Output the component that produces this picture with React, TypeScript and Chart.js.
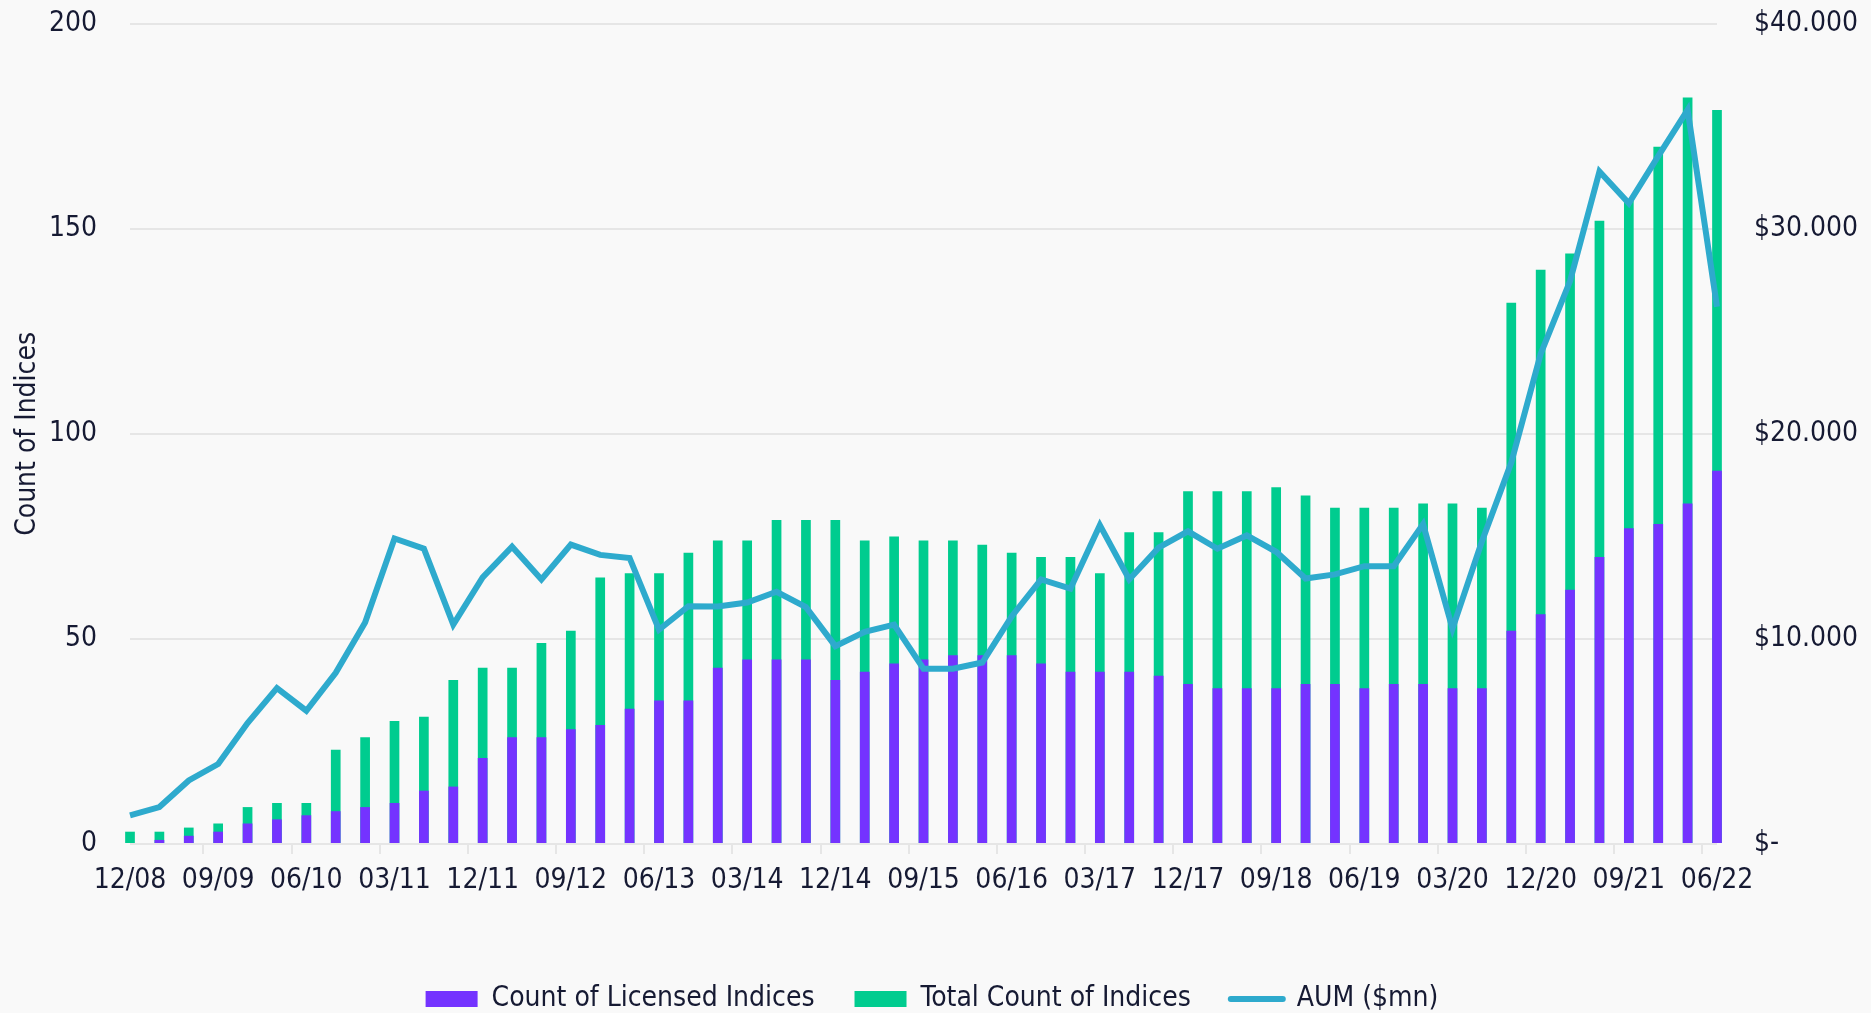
import { useEffect, useRef } from 'react';
import { Chart, registerables } from 'chart.js';

Chart.register(...registerables);

const quarters = [
  '12/08', '03/09', '06/09', '09/09', '12/09', '03/10', '06/10', '09/10', '12/10',
  '03/11', '06/11', '09/11', '12/11', '03/12', '06/12', '09/12', '12/12',
  '03/13', '06/13', '09/13', '12/13', '03/14', '06/14', '09/14', '12/14',
  '03/15', '06/15', '09/15', '12/15', '03/16', '06/16', '09/16', '12/16',
  '03/17', '06/17', '09/17', '12/17', '03/18', '06/18', '09/18', '12/18',
  '03/19', '06/19', '09/19', '12/19', '03/20', '06/20', '09/20', '12/20',
  '03/21', '06/21', '09/21', '12/21', '03/22', '06/22',
];

const licensedCount = [
  0, 1, 2, 3, 5, 6, 7, 8, 9,
  10, 13, 14, 21, 26, 26, 28, 29,
  33, 35, 35, 43, 45, 45, 45, 40,
  42, 44, 45, 46, 46, 46, 44, 42,
  42, 42, 41, 39, 38, 38, 38, 39,
  39, 38, 39, 39, 38, 38, 52, 56,
  62, 70, 77, 78, 83, 91,
];

const totalCount = [
  3, 3, 4, 5, 9, 10, 10, 23, 26,
  30, 31, 40, 43, 43, 49, 52, 65,
  66, 66, 71, 74, 74, 79, 79, 79,
  74, 75, 74, 74, 73, 71, 70, 70,
  66, 76, 76, 86, 86, 86, 87, 85,
  82, 82, 82, 83, 83, 82, 132, 140,
  144, 152, 157, 170, 182, 179,
];

const aumMn = [
  1400, 1800, 3100, 3900, 5900, 7600, 6500, 8350, 10800,
  14900, 14400, 10700, 13000, 14500, 12900, 14600, 14100,
  13950, 10450, 11600, 11580, 11780, 12300, 11550, 9650,
  10350, 10700, 8550, 8550, 8850, 11100, 12900, 12450,
  15550, 12900, 14450, 15250, 14400, 15050, 14250, 12950,
  13150, 13550, 13550, 15600, 10500, 14750, 18600, 23900,
  27450, 32800, 31250, 33550, 35800, 26200,
];

const PURPLE = '#7433FF';
const GREEN = '#00CC8F';
const BLUE = '#2EAACD';
const TEXT = '#161a33';
const GRID = '#e6e6e6';
const BG = '#f9f9f9';
const FONT = "'Liberation Sans Narrow', 'DejaVu Sans Condensed', 'DejaVu Sans', sans-serif";
const FONT_SIZE = 28;

export default function App() {
  const ref = useRef<HTMLCanvasElement>(null);

  useEffect(() => {
    document.body.style.margin = '0';
    document.body.style.background = BG;
    const font = { size: FONT_SIZE, family: FONT };
    const chart = new Chart(ref.current as HTMLCanvasElement, {
      type: 'bar',
      data: {
        labels: quarters,
        datasets: [
          {
            type: 'bar',
            label: 'Count of Licensed Indices',
            data: licensedCount,
            backgroundColor: PURPLE,
            borderWidth: 0,
            grouped: false,
            barPercentage: 0.33,
            categoryPercentage: 1,
            yAxisID: 'y',
            order: 1,
            clip: false,
          } as any,
          {
            type: 'bar',
            label: 'Total Count of Indices',
            data: totalCount,
            backgroundColor: GREEN,
            borderWidth: 0,
            grouped: false,
            barPercentage: 0.33,
            categoryPercentage: 1,
            yAxisID: 'y',
            order: 2,
            clip: false,
          } as any,
          {
            type: 'line',
            label: 'AUM ($mn)',
            data: aumMn,
            borderColor: BLUE,
            backgroundColor: BLUE,
            borderWidth: 6,
            pointRadius: 0,
            tension: 0,
            yAxisID: 'y1',
            order: 0,
            clip: false,
          } as any,
        ],
      },
      options: {
        responsive: false,
        animation: false,
        devicePixelRatio: 1,
        layout: { padding: { left: 6, right: 13, top: 0, bottom: -10 } },
        plugins: {
          tooltip: { enabled: false },
          legend: {
            position: 'bottom',
            labels: {
              usePointStyle: true,
              pointStyleWidth: 52,
              boxHeight: 16,
              padding: 40,
              color: TEXT,
              font,
              generateLabels: (c: any) =>
                c.data.datasets.map((ds: any, i: number) => {
                  const isLine = ds.type === 'line';
                  const col = isLine ? ds.borderColor : ds.backgroundColor;
                  return {
                    text: ds.label,
                    fillStyle: col,
                    strokeStyle: col,
                    lineWidth: isLine ? 6 : 0,
                    lineCap: 'round',
                    pointStyle: isLine ? 'line' : 'rect',
                    hidden: false,
                    datasetIndex: i,
                    fontColor: TEXT,
                  };
                }),
            },
          },
        },
        scales: {
          x: {
            offset: false,
            afterFit: (s: any) => {
              s.height = 101;
            },
            grid: {
              drawOnChartArea: false,
              tickLength: 10,
              lineWidth: 2,
              color: (ctx: any) => (ctx.index % 3 === 0 ? GRID : 'rgba(0,0,0,0)'),
            },
            border: { display: false },
            ticks: {
              autoSkip: false,
              maxRotation: 0,
              minRotation: 0,
              padding: 10,
              color: TEXT,
              font,
              callback: (_v: any, i: number) => (i % 3 === 0 ? quarters[i] : ''),
            },
          },
          y: {
            position: 'left',
            min: 0,
            max: 200,
            afterFit: (s: any) => {
              s.width = 124;
            },
            ticks: { stepSize: 50, padding: 7, color: TEXT, font },
            grid: {
              color: GRID,
              lineWidth: 2,
              drawTicks: true,
              tickLength: 26,
              tickColor: 'rgba(0,0,0,0)',
            },
            border: { display: false },
            title: {
              display: true,
              text: 'Count of Indices',
              color: TEXT,
              font,
              padding: { top: 5, bottom: 5 },
            },
          },
          y1: {
            position: 'right',
            min: 0,
            max: 40000,
            afterFit: (s: any) => {
              s.width = 141;
            },
            ticks: {
              stepSize: 10000,
              padding: 7,
              color: TEXT,
              font,
              callback: (v: any) => (Number(v) === 0 ? '$-' : '$' + Number(v) / 1000 + '.000'),
            },
            grid: {
              drawOnChartArea: false,
              drawTicks: true,
              tickLength: 30,
              tickColor: 'rgba(0,0,0,0)',
            },
            border: { display: false },
          },
        },
      } as any,
    });
    return () => chart.destroy();
  }, []);

  return (
    <div style={{ width: 1871, height: 1013, background: BG }}>
      <canvas ref={ref} width={1871} height={1013} style={{ display: 'block' }} />
    </div>
  );
}
